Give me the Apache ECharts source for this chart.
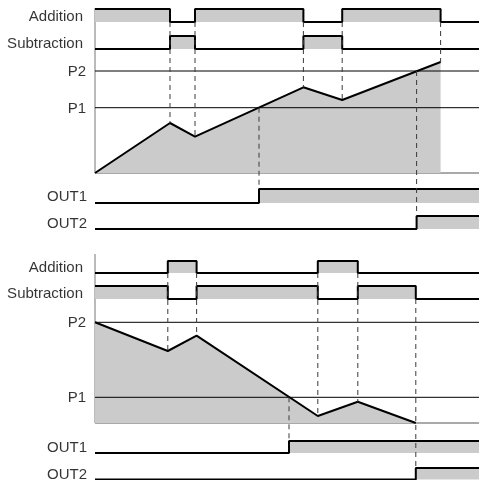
<!DOCTYPE html>
<html>
<head>
<meta charset="utf-8">
<script src="https://cdn.jsdelivr.net/npm/echarts@6/dist/echarts.min.js"></script>
<style>
  html, body { margin: 0; padding: 0; background: #fff; }
  #chart { width: 479px; height: 480px; }
</style>
</head>
<body>
<div id="chart"></div>
<script>
// Time axis shared by both timing diagrams
const timeRange = [0, 96];

// Upper diagram: counter counting up
const upAddition    = [[0, 1], [18.75, 0], [25, 1], [52.1, 0], [61.8, 1], [86.4, 0]];
const upSubtraction = [[0, 0], [18.75, 1], [25, 0], [52.1, 1], [61.8, 0]];
const upCount       = [[0, 0], [18.75, 50], [25, 36.3], [52.1, 85.7], [61.8, 73], [86.4, 111]];
const upPresets     = [65.3, 102];
const upOut1        = [[0, 0], [41, 1]];
const upOut2        = [[0, 0], [80.4, 1]];

// Lower diagram: counter counting down
const downAddition    = [[0, 0], [18.2, 1], [25.4, 0], [55.7, 1], [65.7, 0]];
const downSubtraction = [[0, 1], [18.2, 0], [25.4, 1], [55.7, 0], [65.7, 1], [80.2, 0]];
const downCount       = [[0, 100.7], [18.2, 72], [25.4, 87.3], [55.7, 7], [65.7, 21.3], [80.2, 0]];
const downPresets     = [25.7, 100.7];
const downOut1        = [[0, 0], [48.5, 1]];
const downOut2        = [[0, 0], [80.2, 1]];

const presetNames = ['P1', 'P2'];
const signalNames = ['Addition', 'Subtraction', 'OUT1', 'OUT2'];

// Lane placement of each digital trace, as [low, high] on the panel's vertical scale
const upLanes = {
  addition: [151, 164], subtraction: [124, 137], out1: [-30, -16], out2: [-56, -43], top: 165
};
const downLanes = {
  addition: [150, 162], subtraction: [124, 137], out1: [-30, -18], out2: [-56.5, -45], top: 169
};

const FILL = '#cbcbcb';
const INK = '#000';
const GUIDE = '#3a3a3a';

function stepPoints(events, lane) {
  const [lo, hi] = lane;
  const level = s => lo + s * (hi - lo);
  const pts = [];
  events.forEach(([t, s], i) => {
    if (i > 0) pts.push([t, level(events[i - 1][1])]);
    pts.push([t, level(s)]);
  });
  pts.push([timeRange[1], level(events[events.length - 1][1])]);
  return pts;
}

function base(gi) {
  return { type: 'line', xAxisIndex: gi, yAxisIndex: gi, symbol: 'none', silent: true, animation: false };
}

function signal(gi, events, lane) {
  return Object.assign(base(gi), {
    data: stepPoints(events, lane),
    lineStyle: { color: INK, width: 2 },
    areaStyle: { color: FILL, opacity: 1, origin: lane[0] },
    z: 3
  });
}

function plainLine(gi, pts, color, width, z, dashed) {
  return Object.assign(base(gi), {
    data: pts,
    lineStyle: { color: color, width: width, type: dashed ? [5, 4] : 'solid' },
    z: z
  });
}

function labels(gi, items) {
  return {
    type: 'scatter', xAxisIndex: gi, yAxisIndex: gi, silent: true, animation: false,
    symbolSize: 0, clip: false,
    data: items.map(([name, v, pad]) => ({ value: [timeRange[0], v], name: name,
      label: { padding: [0, pad, 0, 0] } })),
    label: {
      show: true, position: 'left', distance: 8, offset: [0, 1], formatter: p => p.name,
      fontFamily: 'Liberation Sans, Arial, sans-serif', fontSize: 15, color: '#000'
    }
  };
}

function panel(gi, lanes, addition, subtraction, count, presets, out1, out2, guides) {
  const mid = l => (l[0] + l[1]) / 2;
  const list = [];
  // left edge and zero line of the count area
  list.push(plainLine(gi, [[timeRange[0], lanes.top], [timeRange[0], 0]], '#777', 1, 1, false));
  list.push(plainLine(gi, [[timeRange[0], 0], [timeRange[1], 0]], '#555', 1, 1, false));
  // count value
  list.push(Object.assign(base(gi), {
    data: count,
    lineStyle: { color: INK, width: 2 },
    areaStyle: { color: FILL, opacity: 1, origin: 0 },
    z: 2
  }));
  // preset levels
  presets.forEach(p => list.push(plainLine(gi, [[timeRange[0], p], [timeRange[1], p]], INK, 1, 3, false)));
  // digital traces
  list.push(signal(gi, addition, lanes.addition));
  list.push(signal(gi, subtraction, lanes.subtraction));
  list.push(signal(gi, out1, lanes.out1));
  list.push(signal(gi, out2, lanes.out2));
  // dashed timing guides
  guides.forEach(g => list.push(plainLine(gi, g, GUIDE, 1, 5, true)));
  // trace names
  list.push(labels(gi, [
    [signalNames[0], mid(lanes.addition), 4],
    [signalNames[1], mid(lanes.subtraction), 4],
    [presetNames[1], presets[1], 1],
    [presetNames[0], presets[0], 1],
    [signalNames[2], mid(lanes.out1), 0],
    [signalNames[3], mid(lanes.out2), 0]
  ]));
  return list;
}

// Guides: input edges drop to the count value, preset crossings drop to the output edge
const upGuides = upCount.slice(1).map(([t, v]) => [[t, upLanes.addition[0]], [t, v]])
  .concat([
    [[upOut1[1][0], upPresets[0]], [upOut1[1][0], upLanes.out1[1]]],
    [[upOut2[1][0], upPresets[1]], [upOut2[1][0], upLanes.out2[1]]]
  ]);

const downGuides = downCount.slice(1, 5).map(([t, v]) => [[t, downLanes.addition[0]], [t, v]])
  .concat([
    [[downOut1[1][0], downPresets[0]], [downOut1[1][0], downLanes.out1[1]]],
    [[downOut2[1][0], downLanes.subtraction[0]], [downOut2[1][0], downLanes.out2[1]]]
  ]);

const chart = echarts.init(document.getElementById('chart'), null, { renderer: 'canvas' });

chart.setOption({
  animation: false,
  backgroundColor: '#fff',
  grid: [
    { left: 95, right: 0, top: 6, height: 225 },
    { left: 95, right: 0, top: 254, height: 226 }
  ],
  xAxis: [
    { gridIndex: 0, type: 'value', min: timeRange[0], max: timeRange[1], show: false },
    { gridIndex: 1, type: 'value', min: timeRange[0], max: timeRange[1], show: false }
  ],
  yAxis: [
    { gridIndex: 0, type: 'value', min: -58, max: 167, show: false },
    { gridIndex: 1, type: 'value', min: -57, max: 169, show: false }
  ],
  series: [].concat(
    panel(0, upLanes, upAddition, upSubtraction, upCount, upPresets, upOut1, upOut2, upGuides),
    panel(1, downLanes, downAddition, downSubtraction, downCount, downPresets, downOut1, downOut2, downGuides)
  )
});
</script>
</body>
</html>
